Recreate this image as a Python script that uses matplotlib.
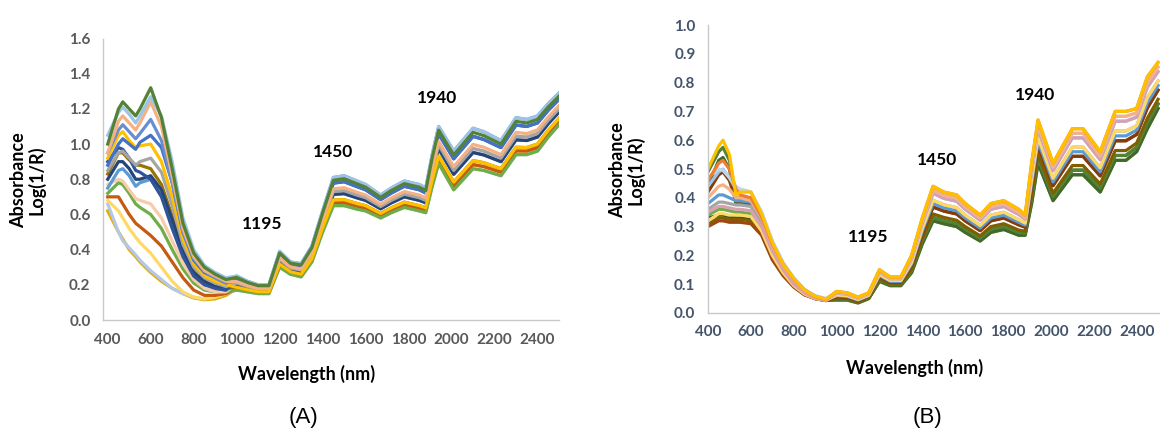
import numpy as np
import matplotlib
matplotlib.use("Agg")
import matplotlib.pyplot as plt

# wavelength grid (nm) the curves were read at
vis_wl = [400, 450, 470, 500, 530, 550, 600, 650, 700, 750, 800, 850, 900, 950]
nir_wl = [1000, 1050, 1100, 1150, 1200, 1250, 1300, 1350, 1400, 1450, 1500, 1560, 1600, 1670,
          1720, 1780, 1850, 1880, 1910, 1940, 2010, 2100, 2150, 2230, 2300, 2350, 2400, 2450, 2500]

# ---------------- panel A ----------------
# visible part (400-950 nm), one list per sample
a_vis_1 = [1.00, 1.20, 1.24, 1.20, 1.16, 1.20, 1.32, 1.15, 0.86, 0.55, 0.38, 0.30, 0.26, 0.23]
a_vis_2 = [1.05, 1.18, 1.21, 1.17, 1.12, 1.16, 1.27, 1.16, 0.90, 0.58, 0.40, 0.31, 0.27, 0.24]
a_vis_3 = [0.95, 1.13, 1.16, 1.12, 1.08, 1.12, 1.24, 1.10, 0.82, 0.52, 0.36, 0.28, 0.25, 0.22]
a_vis_4 = [0.88, 1.00, 1.03, 1.00, 0.97, 1.01, 1.05, 0.98, 0.78, 0.50, 0.34, 0.27, 0.24, 0.21]
a_vis_5 = [0.92, 1.05, 1.07, 1.02, 0.98, 0.99, 1.00, 0.90, 0.70, 0.46, 0.32, 0.25, 0.22, 0.20]
a_vis_6 = [0.85, 0.95, 0.96, 0.92, 0.88, 0.90, 0.92, 0.84, 0.65, 0.43, 0.30, 0.24, 0.21, 0.19]
a_vis_7 = [0.80, 0.90, 0.90, 0.86, 0.80, 0.80, 0.82, 0.74, 0.57, 0.39, 0.27, 0.22, 0.19, 0.18]
a_vis_8 = [0.83, 0.95, 0.95, 0.91, 0.88, 0.88, 0.86, 0.77, 0.59, 0.40, 0.28, 0.22, 0.19, 0.18]
a_vis_9 = [0.75, 0.85, 0.86, 0.82, 0.76, 0.78, 0.80, 0.71, 0.54, 0.37, 0.26, 0.21, 0.18, 0.17]
a_vis_10 = [0.72, 0.78, 0.77, 0.72, 0.66, 0.64, 0.60, 0.52, 0.40, 0.29, 0.21, 0.17, 0.16, 0.16]
a_vis_11 = [0.70, 0.70, 0.66, 0.60, 0.55, 0.53, 0.48, 0.42, 0.33, 0.24, 0.17, 0.14, 0.14, 0.15]
a_vis_12 = [0.77, 0.80, 0.79, 0.74, 0.69, 0.68, 0.66, 0.58, 0.45, 0.32, 0.23, 0.18, 0.16, 0.16]
a_vis_13 = [0.66, 0.50, 0.45, 0.41, 0.37, 0.34, 0.28, 0.23, 0.18, 0.15, 0.13, 0.12, 0.13, 0.15]
a_vis_14 = [0.62, 0.50, 0.46, 0.40, 0.36, 0.33, 0.27, 0.22, 0.18, 0.15, 0.125, 0.115, 0.12, 0.14]
a_vis_15 = [0.90, 0.98, 0.97, 0.92, 0.85, 0.84, 0.80, 0.70, 0.52, 0.36, 0.25, 0.20, 0.18, 0.17]
a_vis_16 = [0.95, 1.08, 1.11, 1.07, 1.03, 1.06, 1.14, 1.02, 0.78, 0.50, 0.35, 0.28, 0.24, 0.21]
a_vis_17 = [0.68, 0.62, 0.58, 0.52, 0.47, 0.44, 0.38, 0.30, 0.22, 0.16, 0.13, 0.12, 0.13, 0.15]

# NIR part (1000-2500 nm), from the lowest to the highest trace of the band
a_nir_1 = [.17, .16, .15, .15, .30, .26, .245, .33, .50, .65, .65, .63, .62, .58, .61, .64, .62, .61,
           .76, .89, .74, .86, .85, .82, .94, .94, .96, 1.04, 1.11]
a_nir_2 = [.178, .166, .155, .155, .309, .267, .253, .339, .512, .666, .667, .646, .635, .593, .624,
           .655, .635, .624, .778, .911, .762, .883, .872, .840, .961, .960, .980, 1.059, 1.128]
a_nir_3 = [.186, .172, .16, .16, .318, .274, .26, .348, .524, .682, .684, .662, .65, .606, .638, .67,
           .65, .638, .796, .932, .784, .906, .894, .86, .982, .98, 1.0, 1.078, 1.146]
a_nir_4 = [.202, .184, .17, .17, .336, .288, .275, .366, .548, .714, .718, .694, .68, .632, .666, .70,
           .68, .666, .832, .974, .828, .952, .938, .90, 1.024, 1.02, 1.04, 1.116, 1.182]
a_nir_5 = [.21, .19, .175, .175, .345, .295, .283, .375, .56, .73, .735, .71, .695, .645, .68, .715,
           .695, .68, .85, .995, .85, .975, .96, .92, 1.045, 1.04, 1.06, 1.135, 1.20]
a_nir_6 = [.218, .196, .18, .18, .354, .302, .29, .384, .572, .746, .752, .726, .71, .658, .694, .73,
           .71, .694, .868, 1.016, .872, .998, .982, .94, 1.066, 1.06, 1.08, 1.154, 1.218]
a_nir_7 = [.234, .208, .19, .19, .372, .316, .305, .402, .596, .778, .786, .758, .74, .684, .722, .76,
           .74, .722, .904, 1.058, .916, 1.044, 1.026, .98, 1.108, 1.10, 1.12, 1.192, 1.254]
a_nir_8 = [.242, .214, .195, .195, .381, .323, .313, .411, .608, .794, .803, .774, .755, .697, .736,
           .775, .755, .736, .922, 1.079, .938, 1.067, 1.048, 1.0, 1.129, 1.12, 1.14, 1.211, 1.272]
a_nir_9 = [.25, .22, .20, .20, .39, .33, .32, .42, .62, .81, .82, .79, .77, .71, .75, .79, .77, .75,
           .94, 1.10, .96, 1.09, 1.07, 1.02, 1.15, 1.14, 1.16, 1.23, 1.29]

samples_a = [
    (a_vis_14, a_nir_2), (a_vis_13, a_nir_1), (a_vis_17, a_nir_2), (a_vis_11, a_nir_2),
    (a_vis_10, a_nir_1), (a_vis_12, a_nir_5), (a_vis_9, a_nir_4), (a_vis_8, a_nir_3),
    (a_vis_7, a_nir_4), (a_vis_15, a_nir_7), (a_vis_6, a_nir_5), (a_vis_5, a_nir_3),
    (a_vis_4, a_nir_7), (a_vis_16, a_nir_9), (a_vis_3, a_nir_6), (a_vis_2, a_nir_9),
    (a_vis_1, a_nir_8),
]
colors_a = ['#E2AC00', '#B4C7E7', '#FFD966', '#C55A11', '#70AD47', '#F8CBAD', '#5B9BD5',
            '#997300', '#264478', '#2F5597', '#A5A5A5', '#FFC000', '#4472C4', '#698ED0',
            '#F4B183', '#9DC3E6', '#548235']

# ---------------- panel B ----------------
b_vis_1 = [.50, .58, .60, .55, .41, .42, .42, .345, .245, .17, .12, .08, .058, .048]
b_vis_2 = [.49, .56, .575, .53, .40, .40, .40, .335, .24, .165, .115, .078, .056, .047]
b_vis_3 = [.44, .49, .50, .47, .43, .43, .42, .35, .25, .175, .122, .082, .06, .05]
b_vis_4 = [.42, .48, .49, .46, .39, .39, .385, .32, .23, .16, .11, .075, .055, .046]
b_vis_5 = [.40, .44, .445, .43, .40, .40, .39, .33, .235, .165, .115, .078, .056, .047]
b_vis_6 = [.38, .41, .41, .40, .39, .39, .385, .325, .23, .16, .11, .075, .054, .046]
b_vis_7 = [.36, .385, .385, .38, .375, .375, .37, .31, .22, .155, .105, .072, .052, .045]
b_vis_8 = [.35, .37, .37, .365, .36, .36, .355, .30, .215, .15, .10, .07, .051, .044]
b_vis_9 = [.34, .36, .36, .355, .35, .35, .345, .29, .205, .145, .097, .067, .05, .044]
b_vis_10 = [.31, .33, .33, .325, .325, .325, .32, .275, .19, .135, .092, .064, .05, .043]
b_vis_11 = [.30, .32, .32, .315, .315, .315, .31, .27, .185, .13, .09, .063, .05, .043]
b_vis_12 = [.32, .345, .345, .34, .34, .34, .335, .285, .20, .14, .095, .066, .05, .044]
b_vis_13 = [.47, .50, .495, .47, .44, .43, .42, .35, .25, .175, .12, .08, .058, .048]
b_vis_14 = [.44, .53, .54, .50, .38, .38, .375, .315, .225, .158, .11, .075, .055, .046]
b_vis_15 = [.46, .52, .53, .50, .43, .41, .40, .335, .24, .17, .118, .08, .057, .047]
b_vis_16 = [.33, .34, .34, .335, .33, .33, .325, .28, .195, .138, .094, .065, .05, .044]

b_nir_1 = [.045, .045, .035, .05, .11, .095, .095, .14, .24, .32, .31, .30, .28, .25, .28, .29, .27,
           .27, .38, .52, .39, .48, .48, .42, .53, .53, .56, .64, .71]
b_nir_2 = [.048, .048, .037, .052, .114, .098, .098, .146, .249, .332, .321, .311, .29, .259, .29, .30,
           .279, .277, .394, .535, .403, .496, .496, .434, .547, .547, .575, .658, .726]
b_nir_3 = [.051, .05, .039, .054, .118, .101, .101, .152, .258, .344, .332, .322, .30, .268, .30, .31,
           .288, .284, .408, .55, .416, .512, .512, .448, .564, .564, .59, .676, .742]
b_nir_4 = [.057, .055, .043, .058, .126, .107, .107, .164, .276, .368, .354, .344, .32, .286, .32, .33,
           .306, .298, .436, .58, .442, .544, .544, .476, .598, .598, .62, .712, .774]
b_nir_5 = [.06, .058, .045, .06, .13, .11, .11, .17, .285, .38, .365, .355, .33, .295, .33, .34, .315,
           .305, .45, .595, .455, .56, .56, .49, .615, .615, .635, .73, .79]
b_nir_6 = [.063, .06, .047, .062, .134, .113, .113, .176, .294, .392, .376, .366, .34, .304, .34, .35,
           .324, .312, .464, .61, .468, .576, .576, .504, .632, .632, .65, .748, .806]
b_nir_7 = [.069, .065, .051, .066, .142, .119, .119, .188, .312, .416, .398, .388, .36, .322, .36, .37,
           .342, .326, .492, .64, .494, .608, .608, .532, .666, .666, .68, .784, .838]
b_nir_8 = [.072, .068, .053, .068, .146, .122, .122, .194, .321, .428, .409, .399, .37, .331, .37, .38,
           .351, .333, .506, .655, .507, .624, .624, .546, .683, .683, .695, .802, .854]
b_nir_9 = [.075, .07, .055, .07, .15, .125, .125, .20, .33, .44, .42, .41, .38, .34, .38, .39, .36,
           .34, .52, .67, .52, .64, .64, .56, .70, .70, .71, .82, .87]

samples_b = [
    (b_vis_9, b_nir_1), (b_vis_14, b_nir_1), (b_vis_16, b_nir_2), (b_vis_2, b_nir_2),
    (b_vis_10, b_nir_3), (b_vis_11, b_nir_4), (b_vis_4, b_nir_4), (b_vis_6, b_nir_5),
    (b_vis_7, b_nir_6), (b_vis_12, b_nir_6), (b_vis_3, b_nir_7), (b_vis_8, b_nir_7),
    (b_vis_13, b_nir_8), (b_vis_5, b_nir_8), (b_vis_15, b_nir_9), (b_vis_1, b_nir_9),
]
colors_b = ['#70AD47', '#43682B', '#375623', '#548235', '#7F6000', '#9E480E', '#843C0C',
            '#5B9BD5', '#A5A5A5', '#FFD966', '#9DC3E6', '#D9A0B4', '#BDD7EE', '#F4B183',
            '#ED7D31', '#FFC000']

peaks = ["1195", "1450", "1940"]

W, H = 1160, 433
fig = plt.figure(figsize=(W / 100, H / 100), dpi=100)
tick_font = dict(family="Lato", weight="bold", size=11)


def px(x, y):
	return x / W, 1 - y / H


def draw_panel(rect, samples, colors, xlim, ylim, yticks, ylab_fmt, tick_color):
	ax = fig.add_axes(rect)
	for (vis, nir), c in zip(samples, colors):
		ax.plot(vis_wl + nir_wl, vis + nir, color=c, lw=2.3, solid_joinstyle="round")
	ax.set_xlim(*xlim)
	ax.set_ylim(*ylim)
	ax.set_xticks(range(400, 2600, 200))
	ax.set_yticks(yticks)
	ax.set_yticklabels([ylab_fmt % v for v in yticks])
	for s in ["top", "right"]:
		ax.spines[s].set_visible(False)
	for s in ["left", "bottom"]:
		ax.spines[s].set_color("#C8C8C8")
		ax.spines[s].set_linewidth(1.0)
	ax.tick_params(length=0, pad=9, colors=tick_color)
	for lab in ax.get_xticklabels() + ax.get_yticklabels():
		lab.set_fontfamily(tick_font["family"])
		lab.set_fontweight(tick_font["weight"])
		lab.set_fontsize(tick_font["size"])
	return ax


# panel A
draw_panel([103 / W, 1 - 320 / H, 456 / W, 281.5 / H], samples_a, colors_a,
           (378, 2500), (0, 1.6), [0.0, 0.2, 0.4, 0.6, 0.8, 1.0, 1.2, 1.4, 1.6], "%.1f", "#595959")
# panel B
draw_panel([708 / W, 1 - 313 / H, 452 / W, 288 / H], samples_b, colors_b,
           (400, 2509), (0, 1.0), [round(0.1 * i, 1) for i in range(11)], "%.1f", "#44546A")

lab_font = dict(family="Lato", weight="bold", size=13, color="black")
ann_font = dict(family="Lato", weight="bold", size=12.5, color="black")

fig.text(*px(307, 374), "Wavelength (nm)", ha="center", va="center", **lab_font)
fig.text(*px(915, 368), "Wavelength (nm)", ha="center", va="center", **lab_font)
fig.text(*px(28, 180), "Absorbance\nLog(1/R)", ha="center", va="center", rotation=90,
         linespacing=1.0, **lab_font)
fig.text(*px(627, 170), "Absorbance\nLog(1/R)", ha="center", va="center", rotation=90,
         linespacing=1.0, **lab_font)

for lab, (x, y) in zip(peaks, [(262, 224), (333, 152), (437, 98)]):
	fig.text(*px(x, y), lab, ha="center", va="center", **ann_font)
for lab, (x, y) in zip(peaks, [(868, 237), (937, 160), (1035, 95)]):
	fig.text(*px(x, y), lab, ha="center", va="center", **ann_font)

fig.text(*px(303, 418), "(A)", ha="center", va="center", family="Liberation Sans", size=16)
fig.text(*px(928, 418), "(B)", ha="center", va="center", family="Liberation Sans", size=16)

fig.savefig("out.png", dpi=100)
